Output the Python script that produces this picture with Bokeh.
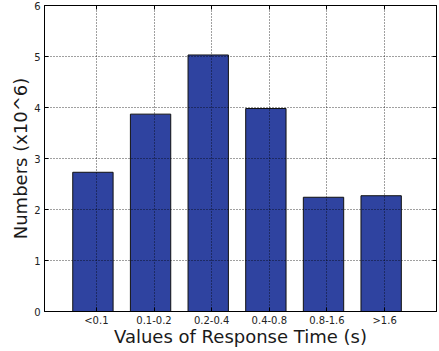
from bokeh.plotting import figure
from bokeh.models import FixedTicker, LinearAxis, Range1d, ColumnDataSource
from bokeh.transform import dodge
from bokeh.embed import file_html
from bokeh.resources import INLINE

categories = ["<0.1", "0.1-0.2", "0.2-0.4", "0.4-0.8", "0.8-1.6", ">1.6"]
values = [2.73, 3.87, 5.03, 3.98, 2.24, 2.27]
positions = [1, 2, 3, 4, 5, 6]
y_ticks = [0, 1, 2, 3, 4, 5, 6]

src = ColumnDataSource(dict(x=positions, top=values))

p = figure(frame_width=392, frame_height=306, output_backend="svg", toolbar_location=None,
           x_range=Range1d(0.1, 6.9), y_range=Range1d(0, 6),
           min_border_left=44, min_border_right=2, min_border_top=5, min_border_bottom=39)
p.background_fill_color = "white"
p.border_fill_color = "white"
p.outline_line_color = "black"
p.outline_line_width = 1

p.vbar(x=dodge("x", -0.06), top="top", width=0.7, bottom=0, source=src,
       fill_color="#2F43A0", line_color="#111111", line_width=1)

font = "DejaVu Sans"
xa = p.xaxis[0]
xa.ticker = FixedTicker(ticks=positions)
xa.major_label_overrides = {pos: lab for pos, lab in zip(positions, categories)}
ya = p.yaxis[0]
ya.ticker = FixedTicker(ticks=y_ticks)

for ax in (xa, ya):
    ax.major_tick_in = 4
    ax.major_tick_out = 0
    ax.minor_tick_line_color = None
    ax.major_label_text_font = font
    ax.major_label_text_font_size = "10px"
    ax.major_label_text_color = "#222222"
    ax.axis_label_text_font = font
    ax.axis_label_text_font_size = "18px"
    ax.axis_label_text_font_style = "normal"
    ax.axis_label_text_color = "#1a1a1a"
    ax.axis_line_color = "black"
    ax.major_tick_line_color = "black"

xa.axis_label = "Values of Response Time (s)"
xa.major_label_standoff = 3
xa.axis_label_standoff = -3
ya.axis_label = "Numbers (x10^6)"
ya.major_label_standoff = 4
ya.axis_label_standoff = 0

top_ax = LinearAxis(ticker=FixedTicker(ticks=positions), major_tick_in=4, major_tick_out=0,
                    minor_tick_line_color=None, major_label_standoff=0,
                    major_label_text_font_size="2px",
                    major_label_overrides={t: "" for t in positions},
                    axis_line_color="black")
right_ax = LinearAxis(ticker=FixedTicker(ticks=y_ticks), major_tick_in=4, major_tick_out=0,
                      minor_tick_line_color=None, major_label_standoff=0,
                      major_label_text_font_size="2px",
                      major_label_overrides={t: "" for t in y_ticks},
                      axis_line_color="black")
p.add_layout(top_ax, "above")
p.add_layout(right_ax, "right")

for g in (p.xgrid[0], p.ygrid[0]):
    g.grid_line_color = "black"
    g.grid_line_dash = "1 2"
    g.grid_line_width = 1
    g.grid_line_alpha = 0.75
    g.level = "overlay"
p.xgrid[0].ticker = FixedTicker(ticks=positions)
p.ygrid[0].ticker = FixedTicker(ticks=y_ticks)

open("out.html", "w").write(file_html(p, INLINE))
